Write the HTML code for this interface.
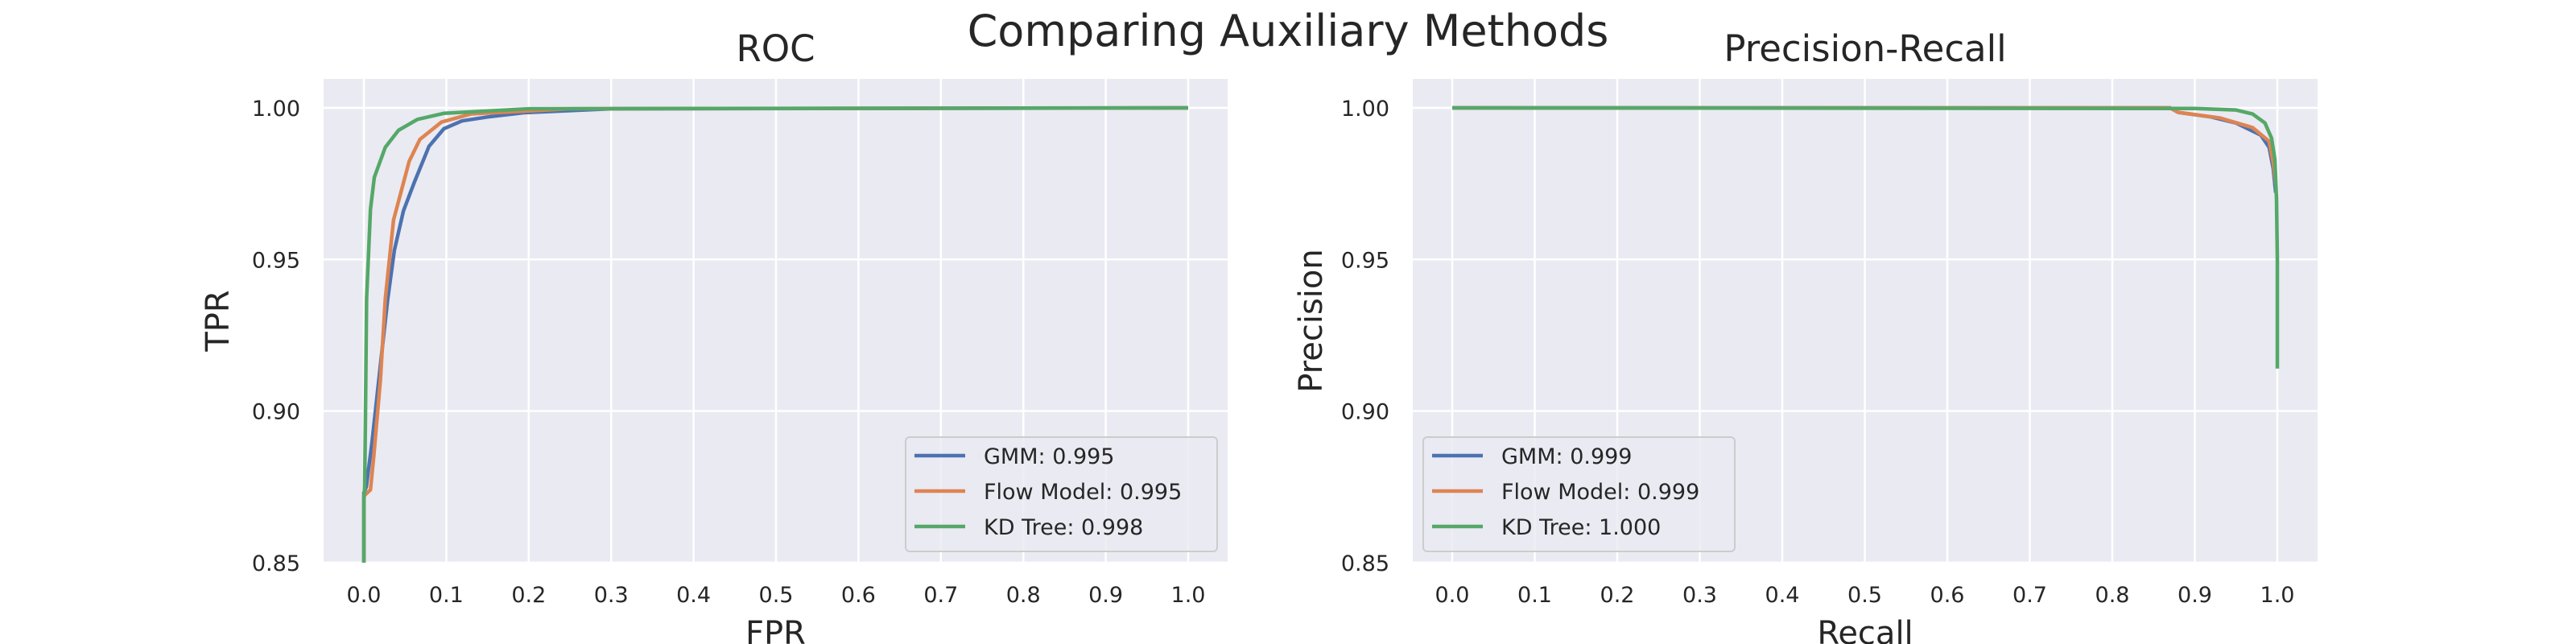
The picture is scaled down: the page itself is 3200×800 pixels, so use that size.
<!DOCTYPE html>
<html><head><meta charset="utf-8"><style>
html,body{margin:0;padding:0;background:#fff}
svg{display:block;font-family:"DejaVu Sans","Liberation Sans",sans-serif}
</style></head><body>
<svg id="fig" width="3200" height="800" viewBox="0 0 3200 800" xmlns="http://www.w3.org/2000/svg">
<text x="1600" y="57" font-size="54" text-anchor="middle" fill="#262626">Comparing Auxiliary Methods</text>
</svg>
<script>
const xTicks = [0,0.1,0.2,0.3,0.4,0.5,0.6,0.7,0.8,0.9,1.0];
const yTicks = [0.85,0.90,0.95,1.00];
const colors = ["#4c72b0","#dd8452","#55a868"];
const rocLabels = ["GMM: 0.995","Flow Model: 0.995","KD Tree: 0.998"];
const prLabels = ["GMM: 0.999","Flow Model: 0.999","KD Tree: 1.000"];
const rocGmmX = [0,0,0.003,0.01,0.02,0.029,0.037,0.048,0.061,0.079,0.097,0.119,0.15,0.194,0.3,1];
const rocGmmY = [0.85,0.873,0.875,0.89,0.915,0.937,0.953,0.966,0.9753,0.9873,0.9931,0.9957,0.997,0.9984,0.9997,1];
const rocFlowX = [0,0,0.008,0.012,0.02,0.026,0.036,0.055,0.068,0.094,0.13,0.25,1];
const rocFlowY = [0.85,0.872,0.874,0.885,0.91,0.937,0.963,0.9824,0.9896,0.9953,0.998,0.9997,1];
const rocKdX = [0,0,0.001,0.002,0.0033,0.008,0.0127,0.026,0.042,0.065,0.097,0.2,1];
const rocKdY = [0.85,0.87,0.875,0.9,0.937,0.9665,0.9771,0.987,0.9926,0.9962,0.9982,0.9997,1];
const prGmmX = [0,0.87,0.88,0.92,0.95,0.98,0.99,0.995,0.998];
const prGmmY = [1,1,0.9985,0.997,0.995,0.991,0.987,0.98,0.972];
const prFlowX = [0,0.87,0.88,0.93,0.97,0.99,0.995,0.998];
const prFlowY = [1,1,0.9985,0.9967,0.9935,0.989,0.982,0.975];
const prKdX = [0,0.9,0.95,0.97,0.985,0.993,0.997,0.999,1,1];
const prKdY = [1,0.9998,0.9993,0.998,0.995,0.99,0.983,0.97,0.95,0.914];

const NS="http://www.w3.org/2000/svg";
const svg=document.getElementById('fig');
function mk(tag,attrs,parent){const e=document.createElementNS(NS,tag);for(const k in attrs)e.setAttribute(k,attrs[k]);(parent||svg).appendChild(e);return e;}

function panel(o){
  const L=o.left,R=o.right,T=98,B=699;
  const sx=v=>o.x0+(o.x1-o.x0)*v;
  const sy=v=>134+(1-v)/0.05*188.3;
  const g=mk('g',{});
  
  
  const bg=mk('rect',{x:L,y:T,width:R-L,height:B-T,fill:'#eaeaf2'},g);
  
  
  const cid='clip-'+o.name;
  const cp=mk('clipPath',{id:cid},g);mk('rect',{x:L,y:T,width:R-L,height:B-T},cp);
  xTicks.forEach(t=>{
    const l=mk('line',{x1:sx(t),x2:sx(t),y1:T,y2:B,stroke:'#fff','stroke-width':2.5},g);
    
    
    const tx=mk('text',{x:sx(t),y:748,'font-size':27,'text-anchor':'middle',fill:'#262626'},g);
    tx.textContent=t.toFixed(1);
    
    
  });
  yTicks.forEach(t=>{
    const l=mk('line',{x1:L,x2:R,y1:sy(t),y2:sy(t),stroke:'#fff','stroke-width':2.5},g);
    
    
    const tx=mk('text',{x:L-29,y:sy(t)+10,'font-size':27,'text-anchor':'end',fill:'#262626'},g);
    tx.textContent=t.toFixed(2);
    
    
  });
  o.series.forEach((s,i)=>{
    const d=s[0].map((x,j)=>(j?'L':'M')+sx(x).toFixed(2)+','+sy(s[1][j]).toFixed(2)).join('');
    const p=mk('path',{d:d,fill:'none',stroke:colors[i],'stroke-width':4.5,'stroke-linejoin':'round','clip-path':'url(#'+cid+')'},g);
    
    
  });
  const tt=mk('text',{x:(L+R)/2,y:76,'font-size':45,'text-anchor':'middle',fill:'#262626'},g);
  tt.textContent=o.title;
  
  
  const xl=mk('text',{x:(L+R)/2,y:800,'font-size':40,'text-anchor':'middle',fill:'#262626'},g);
  xl.textContent=o.xlabel;
  
  
  const yl=mk('text',{x:0,y:0,'font-size':40,'text-anchor':'middle',fill:'#262626',transform:'translate('+o.ylx+','+(T+B)/2+') rotate(-90)'},g);
  yl.textContent=o.ylabel;
  
  
  const lg=mk('g',{},g);
  
  
  mk('rect',{x:o.legX,y:543,width:387,height:142,rx:5,fill:'#eaeaf2','fill-opacity':0.8,stroke:'#cccccc','stroke-width':2},lg);
  o.labels.forEach((lab,i)=>{
    const y=566+i*44;
    const ln=mk('line',{x1:o.legX+11,x2:o.legX+74,y1:y,y2:y,stroke:colors[i],'stroke-width':4.5},lg);
    
    
    const t=mk('text',{x:o.legX+97,y:y+10,'font-size':27,fill:'#262626'},lg);
    t.textContent=lab;
    
    
  });
}
panel({name:'roc-panel',left:402,right:1525,x0:452,x1:1476,title:'ROC',xlabel:'FPR',ylabel:'TPR',ylx:284,legX:1125,labels:rocLabels,
  series:[[rocGmmX,rocGmmY],[rocFlowX,rocFlowY],[rocKdX,rocKdY]]});
panel({name:'pr-panel',left:1755,right:2879,x0:1804,x1:2829,title:'Precision-Recall',xlabel:'Recall',ylabel:'Precision',ylx:1642,legX:1768,labels:prLabels,
  series:[[prGmmX,prGmmY],[prFlowX,prFlowY],[prKdX,prKdY]]});
</script>
</body></html>
